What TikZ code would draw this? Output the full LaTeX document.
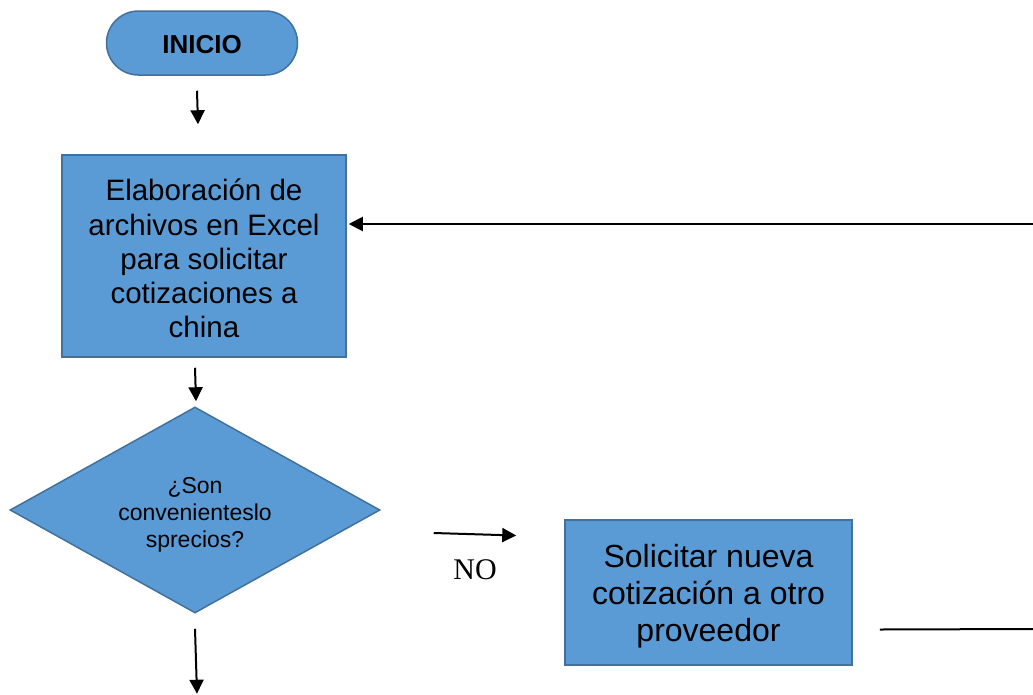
\documentclass[tikz,border=0pt]{standalone}
\usepackage{fontspec}
\setmainfont{Liberation Sans}
\newfontfamily\timesfont{Liberation Serif}
\usepackage{tikz}
\usetikzlibrary{shapes.geometric,arrows.meta}
\definecolor{cajafondo}{RGB}{91,155,213}
\definecolor{cajaborde}{RGB}{65,113,156}
\newcommand{\tamano}[2]{\fontsize{#1}{#2}\selectfont}
\newcommand{\alto}[1]{\rule{0pt}{#1}}
\tikzset{
  inicio/.style={draw=cajaborde, fill=cajafondo, line width=1.5pt, rounded corners=32pt,
    minimum width=191pt, minimum height=64pt, font=\tamano{26}{30}\bfseries},
  proceso/.style={draw=cajaborde, fill=cajafondo, line width=1.5pt, align=center, inner sep=0pt},
  decision/.style={diamond, aspect=1.8, draw=cajaborde, fill=cajafondo, line width=1.5pt, align=center,
    inner sep=0pt, minimum width=370pt, minimum height=206pt, font=\tamano{23}{27}},
  flecha/.style={line width=2pt, -{Triangle[length=14pt,width=14pt]}},
  linea/.style={line width=2pt}
}

\begin{document}
\begin{tikzpicture}[x=1pt,y=-1pt]
\useasboundingbox (0,0) rectangle (1033,694);
\node[inicio] (ini) at (202,43) {\alto{22pt}INICIO};
\node[proceso, minimum width=284pt, minimum height=202pt, font=\tamano{29.5}{34.3}] (elab) at (204,256)
  {\alto{27pt}Elaboración de\\archivos en Excel\\para solicitar\\cotizaciones a\\china};
\node[decision] (precios) at (195,510) {\alto{25pt}¿Son\\convenienteslo\\sprecios?};
\node[proceso, minimum width=287pt, minimum height=145pt, font=\tamano{32}{37}] (nueva) at (708.5,592.5)
  {\alto{31pt}Solicitar nueva\\cotización a otro\\proveedor};
\node[font=\timesfont\tamano{30}{34}] (no) at (475,570) {NO};
\coordinate (borde) at (1033,224);
\coordinate (borde2) at (1033,629);
\draw[flecha] ([shift={(-5,15)}]ini.south) -- ([shift={(-6,-30)}]elab.north);
\draw[flecha] ([shift={(-9,10)}]elab.south) -- ([shift={(1,-5)}]precios.north);
\draw[flecha] ([shift={(53,23)}]precios.east) -- ([shift={(-48,-57)}]nueva.west);
\draw[flecha] (borde) -- ([shift={(2,0)}]elab.east |- borde);
\draw[linea] ([shift={(27,37)}]nueva.east) -- (borde2);
\draw[flecha] ([shift={(0,15)}]precios.south) -- ([shift={(2,80)}]precios.south);
\end{tikzpicture}
\end{document}
